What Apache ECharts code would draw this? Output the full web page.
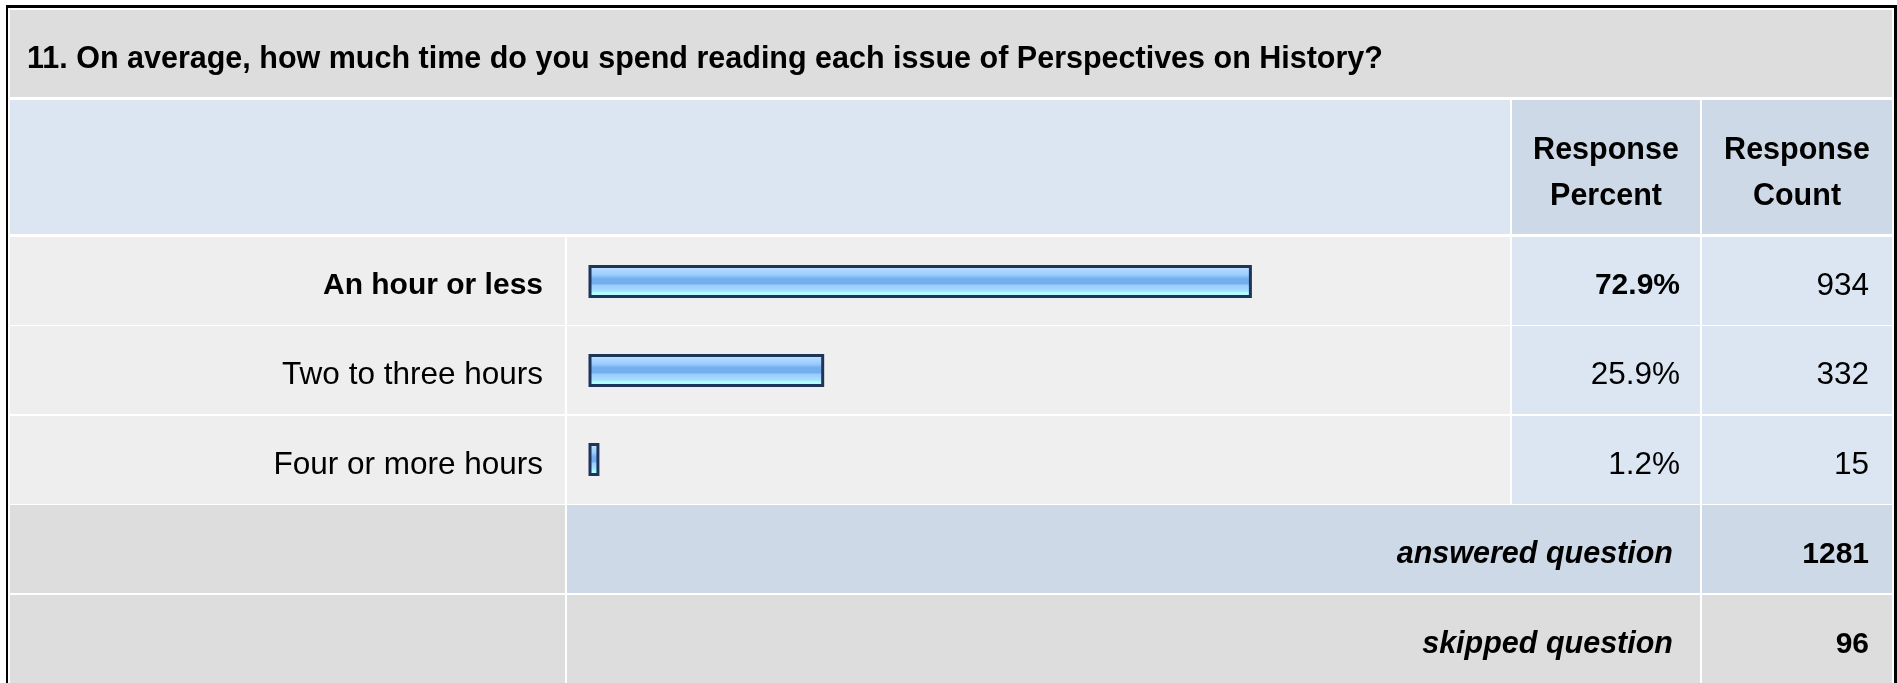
<!DOCTYPE html>
<html>
<head>
<meta charset="utf-8">
<title>Perspectives on History - reading time</title>
<script src="https://cdn.jsdelivr.net/npm/echarts@6/dist/echarts.min.js"></script>
<style>
  html, body { margin: 0; padding: 0; background: #ffffff; }
  #chart { width: 1897px; height: 683px; }
</style>
</head>
<body>
<div id="chart"></div>
<script>
// question + answer data
var questionText = '11. On average, how much time do you spend reading each issue of Perspectives on History?';
var answerLabels = ['An hour or less', 'Two to three hours', 'Four or more hours'];
var responsePercent = [72.9, 25.9, 1.2];
var responseCount = [934, 332, 15];
var answeredCount = 1281;
var skippedCount = 96;

var FONT = '"Liberation Sans", Arial, sans-serif';
var rowTop = [237, 326, 416];   // top of each answer row
var rowH = 88;

function cell(x, y, w, h, color) {
    return { type: 'rect', z: 0, silent: true, shape: { x: x, y: y, width: w, height: h }, style: { fill: color } };
}
function label(text, x, y, align, weight, italic, size) {
    if (!size) size = weight === 'bold' ? 30 : 31.5;
    return {
        type: 'text', z: 1, silent: true,
        style: {
            text: text, x: x, y: y,
            textAlign: align, textVerticalAlign: 'middle',
            font: (italic ? 'italic ' : '') + (weight || 'normal') + ' ' + size + 'px ' + FONT,
            fill: '#000000'
        }
    };
}

var maxIdx = responsePercent.indexOf(Math.max.apply(null, responsePercent));

var els = [];
// outer frame
els.push(cell(6, 5, 1891, 690, '#000000'));
els.push(cell(8, 8, 1886, 690, '#ffffff'));
// title row
els.push(cell(10, 10, 1882, 87, '#dddddd'));
els.push(label(questionText, 27, 60, 'left', 'bold', false, 30.5));
// header row
els.push(cell(10, 100, 1500, 134, '#dce6f2'));
els.push(cell(1512, 100, 188, 134, '#cdd9e6'));
els.push(cell(1702, 100, 190, 134, '#cdd9e6'));
els.push(label('Response', 1606, 151, 'center', 'bold', false, 30.5));
els.push(label('Percent', 1606, 197, 'center', 'bold', false, 30.5));
els.push(label('Response', 1797, 151, 'center', 'bold', false, 30.5));
els.push(label('Count', 1797, 197, 'center', 'bold', false, 30.5));
// answer rows
for (var i = 0; i < answerLabels.length; i++) {
    var y = rowTop[i];
    var mid = y + rowH / 2 + 5;
    var w = i === maxIdx ? 'bold' : 'normal';
    els.push(cell(10, y, 555, rowH, '#eeeeee'));
    els.push(cell(567, y, 943, rowH, '#efefef'));
    els.push(cell(1512, y, 188, rowH, '#dce6f2'));
    els.push(cell(1702, y, 190, rowH, '#dce6f2'));
    els.push(label(answerLabels[i], 543, mid, 'right', w));
    els.push(label(responsePercent[i].toFixed(1) + '%', 1680, mid, 'right', w));
    els.push(label(String(responseCount[i]), 1869, mid, 'right', 'normal'));
}
// answered / skipped
els.push(cell(10, 505, 555, 88, '#dddddd'));
els.push(cell(567, 505, 1133, 88, '#cdd9e6'));
els.push(cell(1702, 505, 190, 88, '#cdd9e6'));
els.push(label('answered question', 1673, 555, 'right', 'bold', true, 30.5));
els.push(label(String(answeredCount), 1869, 555, 'right', 'bold'));
els.push(cell(10, 595, 555, 100, '#dddddd'));
els.push(cell(567, 595, 1133, 100, '#dddddd'));
els.push(cell(1702, 595, 190, 100, '#dddddd'));
els.push(label('skipped question', 1673, 645, 'right', 'bold', true, 30.5));
els.push(label(String(skippedCount), 1869, 645, 'right', 'bold'));

var chart = echarts.init(document.getElementById('chart'));

var option = {
    animation: false,
    backgroundColor: '#ffffff',
    graphic: { elements: els },
    grid: { left: 588.5, top: 237, width: 910, height: 267, containLabel: false },
    xAxis: { type: 'value', min: 0, max: 100, show: false },
    yAxis: { type: 'category', data: answerLabels, inverse: true, show: false },
    series: [
        {
            type: 'bar',
            z: 10,
            barWidth: 33,
            data: responsePercent,
            itemStyle: {
                borderColor: '#1d355a',
                borderWidth: 3,
                color: {
                    type: 'linear', x: 0, y: 0, x2: 0, y2: 1,
                    colorStops: [
                        { offset: 0, color: '#cfe7ff' },
                        { offset: 0.14, color: '#b2d9ff' },
                        { offset: 0.3, color: '#99ccff' },
                        { offset: 0.42, color: '#75aeee' },
                        { offset: 0.56, color: '#75aeee' },
                        { offset: 0.62, color: '#99ccff' },
                        { offset: 0.8, color: '#a9e2ff' },
                        { offset: 0.84, color: '#b3ffff' },
                        { offset: 1, color: '#b3ffff' }
                    ]
                }
            },
            silent: true
        }
    ]
};

chart.setOption(option);
</script>
</body>
</html>
